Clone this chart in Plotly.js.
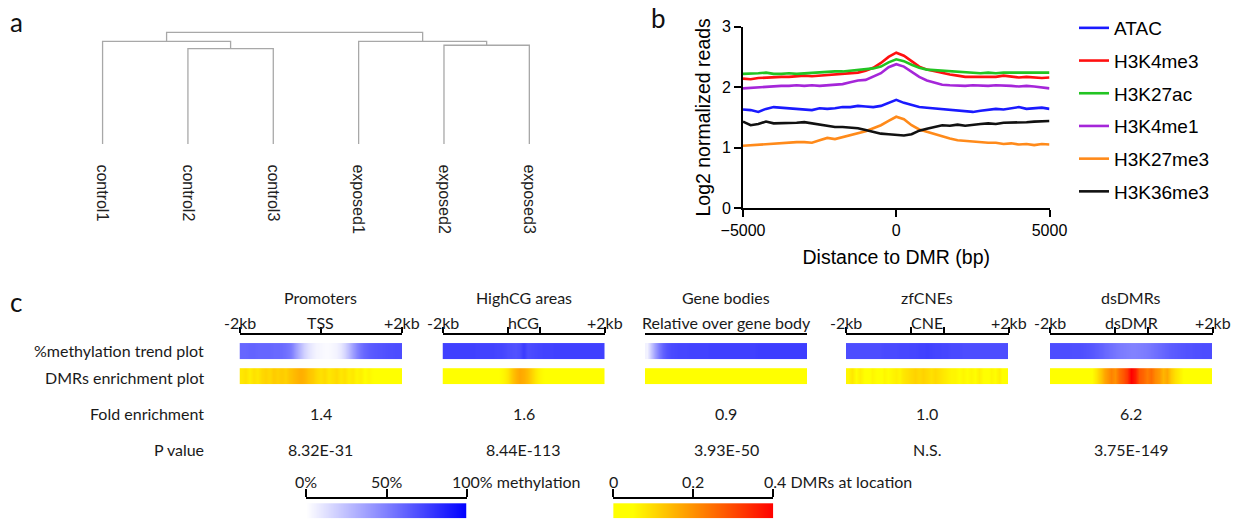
<!DOCTYPE html>
<html><head><meta charset="utf-8">
<script src="https://cdn.plot.ly/plotly-3.0.1.min.js"></script>
<style>html,body{margin:0;padding:0;background:#fff;}#chart{width:1238px;height:521px;}</style>
</head><body><div id="chart"></div>
<script>
// ---------- Panel a: dendrogram ----------
const leafLabels = ['control1','control2','control3','exposed1','exposed2','exposed3'];
// merge steps: node ids 0-5 are leaves, each merge creates node 6, 7, ...
const mergeLeft   = [1, 0, 4, 3, 7];
const mergeRight  = [2, 6, 5, 8, 9];
const mergeHeight = [0.853, 0.919, 0.884, 0.919, 1.0];

// ---------- Panel b: profiles ----------
const distance = [-5000,-4750,-4500,-4250,-4000,-3750,-3500,-3250,-3000,-2750,-2500,-2250,-2000,-1750,-1500,-1250,-1000,-750,-500,-250,0,250,500,750,1000,1250,1500,1750,2000,2250,2500,2750,3000,3250,3500,3750,4000,4250,4500,4750,5000];
const atac     = [1.63,1.62,1.59,1.64,1.67,1.66,1.64,1.64,1.63,1.62,1.65,1.64,1.65,1.67,1.67,1.69,1.68,1.67,1.69,1.74,1.79,1.74,1.70,1.67,1.66,1.65,1.64,1.63,1.62,1.61,1.59,1.61,1.62,1.64,1.63,1.65,1.67,1.64,1.65,1.66,1.64];
const h3k4me3  = [2.14,2.13,2.15,2.16,2.16,2.17,2.17,2.18,2.19,2.18,2.19,2.19,2.20,2.21,2.22,2.24,2.27,2.32,2.40,2.50,2.57,2.52,2.43,2.34,2.29,2.26,2.23,2.21,2.19,2.17,2.17,2.17,2.18,2.17,2.19,2.18,2.16,2.17,2.16,2.15,2.16];
const h3k27ac  = [2.22,2.22,2.23,2.24,2.22,2.22,2.23,2.22,2.23,2.24,2.24,2.25,2.26,2.26,2.27,2.28,2.29,2.31,2.34,2.41,2.46,2.43,2.37,2.32,2.29,2.28,2.27,2.26,2.25,2.24,2.23,2.23,2.24,2.23,2.24,2.24,2.23,2.24,2.23,2.24,2.24];
const h3k4me1  = [1.98,1.99,2.00,2.01,2.02,2.02,2.02,2.03,2.02,2.03,2.02,2.03,2.03,2.05,2.08,2.11,2.12,2.17,2.23,2.33,2.38,2.34,2.26,2.17,2.11,2.07,2.04,2.03,2.02,2.02,2.03,2.02,2.02,2.03,2.03,2.02,2.01,2.02,2.01,1.99,1.98];
const h3k27me3 = [1.03,1.04,1.05,1.05,1.06,1.08,1.09,1.09,1.09,1.08,1.12,1.16,1.14,1.17,1.21,1.23,1.27,1.32,1.37,1.44,1.51,1.47,1.37,1.30,1.26,1.22,1.18,1.15,1.12,1.11,1.09,1.09,1.08,1.08,1.06,1.07,1.05,1.06,1.04,1.06,1.05];
const h3k36me3 = [1.43,1.37,1.39,1.43,1.40,1.40,1.40,1.41,1.42,1.40,1.38,1.36,1.34,1.34,1.33,1.32,1.29,1.26,1.23,1.22,1.21,1.20,1.22,1.28,1.31,1.34,1.37,1.36,1.38,1.36,1.38,1.39,1.40,1.39,1.41,1.41,1.42,1.42,1.43,1.44,1.44];
const seriesNames = ['ATAC','H3K4me3','H3K27ac','H3K4me1','H3K27me3','H3K36me3'];
const seriesValues = [atac, h3k4me3, h3k27ac, h3k4me1, h3k27me3, h3k36me3];
const xTicksB = [-5000, 0, 5000];
const yTicksB = [0, 1, 2, 3];

// ---------- Panel c: region heat strips ----------
const regionNames = ['Promoters','HighCG areas','Gene bodies','zfCNEs','dsDMRs'];
const regionTickLabels = [['-2kb','TSS','+2kb'],['-2kb','hCG','+2kb'],['Relative over gene body'],['-2kb','CNE','+2kb'],['-2kb','dsDMR','+2kb']];
const regionLabelPos = [[-2000,0,2000],[-2000,0,2000],[50],[-2000,0,2000],[-2000,0,2000]];
const regionTickPos = [[-2000,0,2000],[-2000,-400,400,2000],[],[-2000,-400,400,2000],[-2000,-400,400,2000]];
const regionRange = [[-2000,2000],[-2000,2000],[0,100],[-2000,2000],[-2000,2000]];

// % methylation per bin (41 bins)
const methPromoters = [60,60,61,61,60,60,60,60,59,59,58,56,53, 46,36,26,17, 11,7,4,3,2,2,3,5, 9,16,26,37,47,55, 60,63,65,66,67,68,69,69,70,70];
const methHighCG    = [75,75,75,75,75,75,75,75,74,74,74,74,74,73,73,72, 70,69,68,70,77,70,71,72,73, 74,74,74,75,75,75,75,75,75,75,75,75,75,75,75,75];
const methGeneBody  = [5,22,38,52,62,68,71,72,73, 73,73,74,74,74,74,74,75,75,75, 75,75,75,75,75,75,75,75,75,76, 76,76,76,76,76,76,76,76,76,76, 76,76];
const methZfCNE     = [70,70,70,70,70,70,70,70,70,71, 71,71,71,72,72,72,73,73,74,74, 75,74,73,73,72,72,71,71,71,70, 70,70,70,70,70,70,70,70,70,70, 70];
const methDsDMR     = [70,70,70,70,70,69,69,69,68,67, 66,64,62,60,58,56,54,52,51,50, 49,49,50,51,52,54,56,58,60,62, 64,65,66,67,68,68,69,69,70,70, 70];
// DMRs at location per bin (41 bins)
const dmrPromoters = [.08,.09,.07,.09,.08,.10, .11,.10,.12,.11,.12,.11,.13, .14,.15,.16,.15,.13,.12, .10,.09,.10,.08,.09,.10,.08,.09,.07, .08,.06,.07,.05,.06,.05, .04,.04,.03,.03,.02,.02,.02];
const dmrHighCG    = [.02,.02,.02,.02,.02,.02,.02,.02,.02,.03, .03,.03,.03,.04,.05,.06, .08,.12,.15,.17,.16,.14,.11,.08,.06, .05,.04,.03,.03,.03,.02, .02,.02,.02,.02,.02,.02,.02,.02,.02,.02];
const dmrGeneBody  = [.02,.02,.02,.03,.02,.02,.02,.03,.02,.02, .02,.02,.03,.02,.02,.02,.02,.02,.03,.02, .02,.02,.02,.02,.03,.02,.02,.02,.02,.02, .02,.03,.02,.02,.02,.02,.02,.02,.03,.02, .02];
const dmrZfCNE     = [.06,.08,.05,.07,.05,.04,.06,.05,.04,.06, .05,.06,.07,.06,.08, .09,.10,.11,.10,.11,.10,.09,.10,.09,.08, .07,.06,.06,.05,.06,.05,.06, .05,.07,.05,.04,.06,.05,.07,.04,.03];
const dmrDsDMR     = [.02,.02,.02,.02,.02,.02,.02,.03,.03,.04, .05,.08,.12,.16,.19,.22, .20,.25,.28,.32,.40,.36,.28,.26,.23, .25,.21,.19,.15,.17,.12,.09,.07, .05,.04,.03,.02,.02,.02,.02,.02];
const methRows = [methPromoters, methHighCG, methGeneBody, methZfCNE, methDsDMR];
const dmrRows  = [dmrPromoters, dmrHighCG, dmrGeneBody, dmrZfCNE, dmrDsDMR];
const rowLabels = ['%methylation trend plot','DMRs enrichment plot','Fold enrichment','P value'];
const foldEnrichment = [1.4, 1.6, 0.9, 1.0, 6.2];
const pValues = ['8.32E-31','8.44E-113','3.93E-50','N.S.','3.75E-149'];

// colour keys
const methKeyValues = [0,10,20,30,40,50,60,70,80,90,100];
const methKeyTicks = [0, 50, 100];
const methKeyLabels = ['0%','50%','100% methylation'];
const dmrKeyValues = [0,0.04,0.08,0.12,0.16,0.2,0.24,0.28,0.32,0.36,0.4];
const dmrKeyTicks = [0, 0.2, 0.4];
const dmrKeyLabels = ['0','0.2','0.4 DMRs at location'];

// ---------- styles / layout ----------
const W = 1238, H = 521;
const fx = p => p / W, fy = p => 1 - p / H;
const arial = 'Liberation Sans, Arial, sans-serif';
const cal = 'Lato, Open Sans, sans-serif';
const seriesColors = ['#1a1aff','#ff1010','#22c422','#a526d9','#ff8a1a','#111111'];
const methScale = [[0,'#ffffff'],[1,'#0000ff']];
const dmrScale = [[0,'#ffff00'],[0.12,'#ffff00'],[1,'#ff0000']];
const colDomPx = [[239.5,402],[442.5,605],[645,807],[846,1008.5],[1050,1212.5]];

const traces = [];
const annotations = [];
const layout = {
  width: W, height: H, margin: {l:0,r:0,t:0,b:0},
  paper_bgcolor: '#fff', plot_bgcolor: 'rgba(0,0,0,0)',
  showlegend: true,
  legend: {x: fx(1074), y: fy(9), xanchor:'left', yanchor:'top', bgcolor:'rgba(0,0,0,0)',
           font:{family: arial, size:19, color:'#000'}, traceorder:'grouped', tracegroupgap:5, itemwidth:30},
  annotations: annotations
};

// Panel a
const dX = [], dY = [];
const nodeX = leafLabels.map((_, i) => i), nodeH = leafLabels.map(() => 0);
mergeLeft.forEach((a, k) => {
  const b = mergeRight[k], h = mergeHeight[k];
  dX.push(nodeX[a], nodeX[a], nodeX[b], nodeX[b], null);
  dY.push(nodeH[a], h, h, nodeH[b], null);
  nodeX.push((nodeX[a] + nodeX[b]) / 2); nodeH.push(h);
});
traces.push({type:'scatter', mode:'lines', x:dX, y:dY, xaxis:'x', yaxis:'y', showlegend:false,
  line:{color:'#a8a8a8', width:1.3}, hoverinfo:'skip'});
layout.xaxis = {domain:[fx(59.9), fx(572)], range:[-0.5,5.5], anchor:'y', tickvals: leafLabels.map((_, i) => i),
  ticktext: leafLabels, tickangle: 90, ticks:'outside', ticklen:14, tickcolor:'rgba(0,0,0,0)',
  showline:false, showgrid:false, zeroline:false, automargin:false, fixedrange:true,
  tickfont:{family: arial, size:16, color:'#222'}};
layout.yaxis = {domain:[fy(146.2), fy(26.7)], range:[-0.02,1.05], visible:false, fixedrange:true};

// Panel b
seriesNames.forEach((n, i) => {
  traces.push({type:'scatter', mode:'lines', name:n, legendgroup:n, x:distance, y:seriesValues[i],
    xaxis:'x2', yaxis:'y2', line:{color:seriesColors[i], width:2.6}});
});
const axB = {showline:true, linewidth:2, linecolor:'#000', ticks:'outside', ticklen:7, tickwidth:2, tickcolor:'#000',
  showgrid:false, zeroline:false, automargin:false, fixedrange:true, tickfont:{family: arial, size:16, color:'#000'}};
layout.xaxis2 = Object.assign({}, axB, {domain:[fx(743), fx(1049.5)], range:[-5000,5000], anchor:'y2', tickvals:xTicksB,
  title:{text:'Distance to DMR (bp)', font:{family: arial, size:19.5, color:'#000'}, standoff:12}});
layout.yaxis2 = Object.assign({}, axB, {domain:[fy(208), fy(26.7)], range:[0,3], anchor:'x2', tickvals:yTicksB,
  title:{text:'Log2 normalized reads', font:{family: arial, size:19.5, color:'#000'}, standoff:6}});

// Panel c
const cFont = {family: cal, size:16, color:'#1a1a1a'};
function addAnn(text, x, y, xref, extra) {
  annotations.push(Object.assign({text:text, x:x, y:y, xref:xref, yref:'paper', showarrow:false,
    xanchor:'center', yanchor:'middle', font:cFont}, extra || {}));
}
regionNames.forEach((name, c) => {
  const n = c + 3, xa = 'x' + n, ya = 'y' + n;
  const r = regionRange[c], nb = methRows[c].length, dx = (r[1] - r[0]) / nb;
  const common = {type:'heatmap', xaxis:xa, yaxis:ya, x0:r[0] + dx/2, dx:dx, dy:8,
    zsmooth:'best', showscale:false, hoverinfo:'skip'};
  traces.push(Object.assign({}, common, {z:[methRows[c], methRows[c]], y0:21, colorscale:methScale, zmin:0, zmax:100}));
  traces.push(Object.assign({}, common, {z:[dmrRows[c], dmrRows[c]], y0:-4, colorscale:dmrScale, zmin:0, zmax:0.4}));
  layout['xaxis' + n] = {domain:[fx(colDomPx[c][0]), fx(colDomPx[c][1])], range:r, anchor:ya, side:'top',
    showline:true, linewidth:2, linecolor:'#000', ticks: regionTickPos[c].length ? 'outside' : '', tickvals:regionTickPos[c],
    ticklen:6, tickwidth:2, tickcolor:'#000', showticklabels:false, showgrid:false, zeroline:false, fixedrange:true};
  layout['yaxis' + n] = {domain:[fy(384.3), fy(335)], range:[-8,41], visible:false, fixedrange:true};
  addAnn(name, 0.5, fy(297.3), xa + ' domain');
  regionTickLabels[c].forEach((t, k) => addAnn(t, regionLabelPos[c][k], fy(322), xa));
  addAnn(foldEnrichment[c].toFixed(1), 0.5, fy(413.3), xa + ' domain');
  addAnn(pValues[c], 0.5, fy(449), xa + ' domain');
});
const rowY = [350, 377, 413.3, 449];
rowLabels.forEach((t, i) => addAnn(t, fx(205.6), fy(rowY[i]), 'paper', {xanchor:'right'}));

// colour keys
function addKey(n, domPx, vals, ticks, labels, scale, zmax, shift) {
  const xa = 'x' + n, ya = 'y' + n, dx = vals[1] - vals[0];
  traces.push({type:'heatmap', xaxis:xa, yaxis:ya, z:[vals, vals], x0:vals[0], dx:dx, y0:3.75, dy:7.5,
    zsmooth:'best', colorscale:scale, zmin:0, zmax:zmax, showscale:false, hoverinfo:'skip'});
  layout['xaxis' + n] = {domain:[fx(domPx[0]), fx(domPx[1])], range:[vals[0], vals[vals.length-1]], anchor:ya, side:'top',
    showline:true, linewidth:2, linecolor:'#000', ticks:'outside', tickvals:ticks, ticklen:8, tickwidth:2, tickcolor:'#000',
    showticklabels:false, showgrid:false, zeroline:false, fixedrange:true};
  layout['yaxis' + n] = {domain:[fy(518.3), fy(499)], range:[0,19.3], visible:false, fixedrange:true};
  labels.forEach((t, k) => {
    const last = k === labels.length - 1;
    addAnn(t, ticks[k], fy(481.7), xa, last ? {xanchor:'left', xshift:shift} : {});
  });
}
addKey(8, [306.4, 466.6], methKeyValues, methKeyTicks, methKeyLabels, methScale, 100, -17);
addKey(9, [613.2, 773.4], dmrKeyValues, dmrKeyTicks, dmrKeyLabels, dmrScale, 0.4, -11);

// panel letters
[['a',16.5,22],['b',659,18],['c',15.8,302]].forEach(p =>
  annotations.push({text:p[0], x:fx(p[1]), y:fy(p[2]), xref:'paper', yref:'paper', showarrow:false,
    xanchor:'center', yanchor:'middle', font:{family: cal, size:26, color:'#111'}}));

Plotly.newPlot('chart', traces, layout, {displayModeBar:false, staticPlot:true});
</script></body></html>
